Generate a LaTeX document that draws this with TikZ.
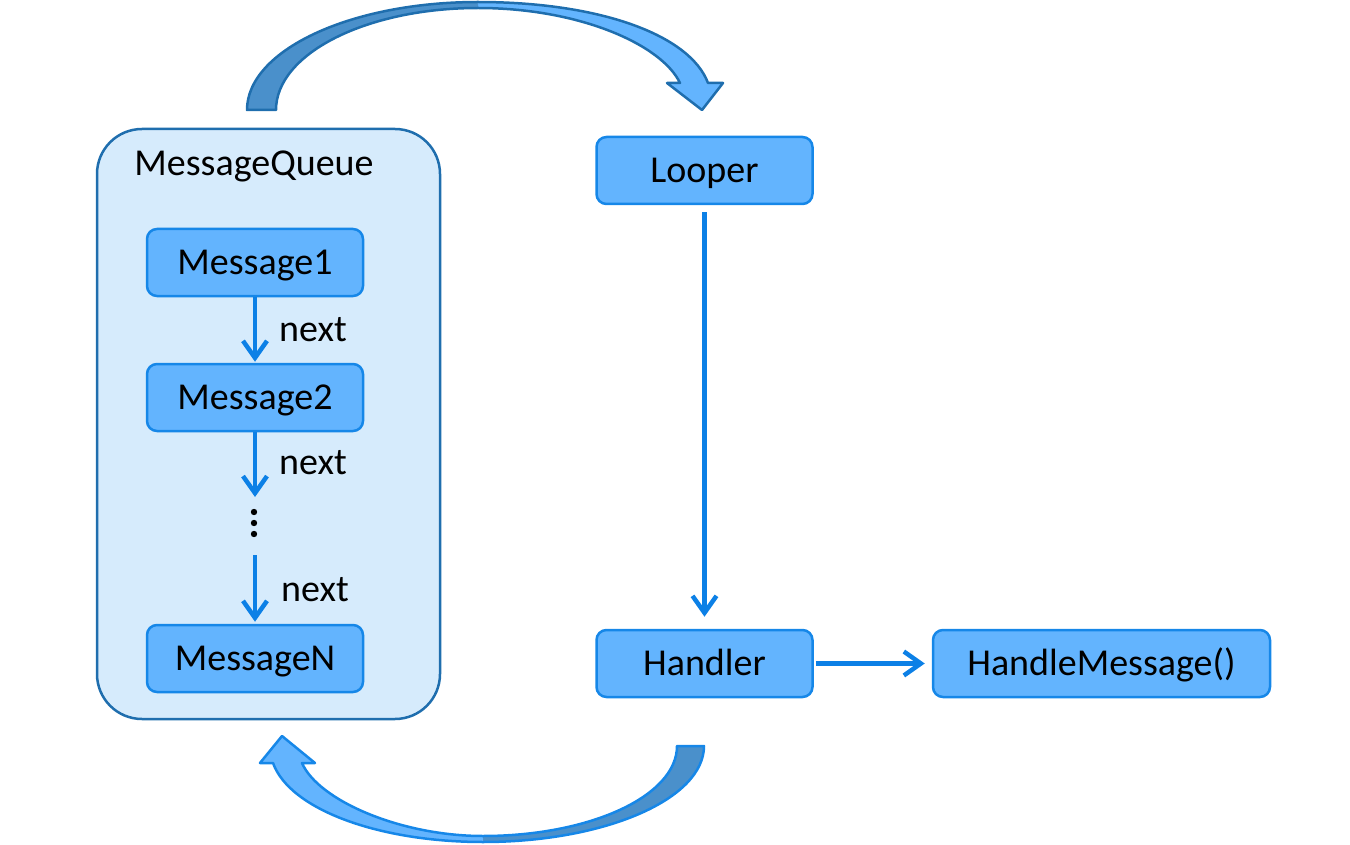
\documentclass[tikz,border=0pt]{standalone}
\usepackage{fontspec}
\setmainfont{Carlito}
\usetikzlibrary{arrows.meta}
\definecolor{boxfill}{RGB}{99,180,254}
\definecolor{boxline}{RGB}{22,135,232}
\definecolor{qfill}{RGB}{214,235,252}
\definecolor{qline}{RGB}{31,110,174}
\definecolor{conn}{RGB}{12,128,230}
\definecolor{darkfill}{RGB}{74,144,203}
\tikzset{
  msgbox/.style={draw=boxline, fill=boxfill, line width=2.5pt, rounded corners=10pt,
    minimum width=216pt, minimum height=67pt, inner sep=0pt, font=\fontsize{38}{44}\selectfont,
    text height=24pt, text depth=0pt},
  conn/.style={draw=conn, line width=4.5pt, -{Straight Barb[length=17pt,width=24pt]}},
  lbl/.style={font=\fontsize{38}{44}\selectfont, inner sep=0pt, text height=24pt, text depth=0pt},
  nlbl/.style={font=\fontsize{38}{44}\selectfont, inner sep=0pt, text height=18pt, text depth=0pt},
}
\begin{document}
\begin{tikzpicture}[x=1pt,y=-1pt]
\useasboundingbox (0,0) rectangle (1350,845);
% queue container
\node[draw=qline, fill=qfill, line width=2.5pt, rounded corners=45pt,
  minimum width=343pt, minimum height=590pt, inner sep=0pt] (queue) at (268.5,424) {};
\node[lbl] (qlabel) at (254,164) {MessageQueue};
\node[msgbox] (m1) at (255,262.5) {Message1};
\node[msgbox] (m2) at (255,397.5) {Message2};
\node[msgbox] (mn) at (255,658.5) {MessageN};
\node[msgbox] (looper) at (704.5,170.5) {Looper};
\node[msgbox] (handler) at (704.5,663.5) {Handler};
\node[msgbox, minimum width=337pt] (hm) at (1101.5,663.5) {HandleMessage()};
% dots
\node[inner sep=0pt, minimum size=2pt] (dots) at (254,523) {};
\fill (254,512) circle (3.2pt) (254,523) circle (3.2pt) (254,534) circle (3.2pt);
\coordinate (d1) at (255,497);
\coordinate (d2) at (255,555);
% connectors
\draw[conn, shorten >=1pt] (m1.south) -- (m2.north);
\draw[conn] (m2.south) -- (d1);
\draw[conn, shorten >=2pt] (d2) -- (mn.north);
\draw[conn, shorten <=7pt, shorten >=12pt] (looper.south) -- (handler.north);
\draw[conn, shorten <=2pt, shorten >=7pt] (handler.east) -- (hm.west);
\node[nlbl] (n1) at (313,332) {next};
\node[nlbl] (n2) at (313,465) {next};
\node[nlbl] (n3) at (315,592) {next};
% top curved arrow
\def\toparrow{(247,110) .. controls (247,50.4) and (350.4,2) .. (478,2)
  .. controls (600,2) and (690,35) .. (708,83) -- (723,83) -- (702,110) -- (667,83) -- (680,83)
  .. controls (662,45) and (580,8) .. (478,8)
  .. controls (366.4,8) and (276,53.7) .. (276,110) -- cycle}
\fill[boxfill] \toparrow;
\begin{scope}
  \clip (0,0) rectangle (478,120);
  \fill[darkfill] \toparrow;
\end{scope}
\draw[qline, line width=2.5pt, line join=round] \toparrow;
% bottom curved arrow
\def\botarrow{(704,746) .. controls (704,799) and (605,842) .. (483,842)
  .. controls (380,842) and (290,810) .. (273,763) -- (260,763) -- (282,736) -- (315,763) -- (302,763)
  .. controls (318,800) and (400,836) .. (483,836)
  .. controls (590,836) and (677,796) .. (677,746) -- cycle}
\fill[boxfill] \botarrow;
\begin{scope}
  \clip (483,730) rectangle (720,845);
  \fill[darkfill] \botarrow;
\end{scope}
\draw[boxline, line width=2.5pt, line join=round] \botarrow;
\end{tikzpicture}
\end{document}
